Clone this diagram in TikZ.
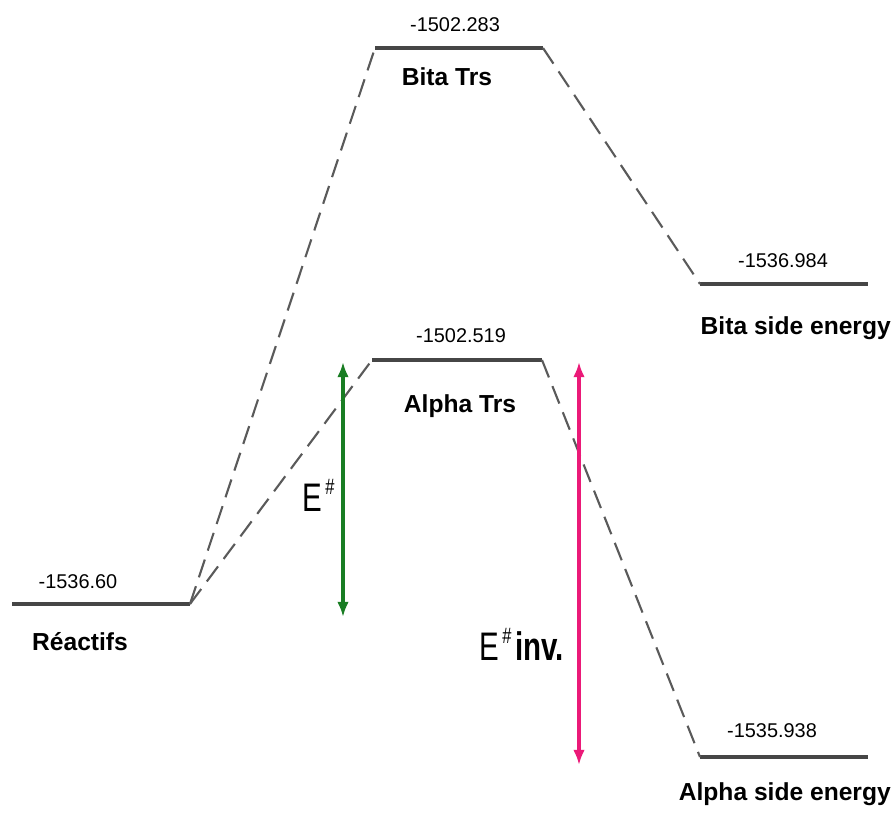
\documentclass[tikz,border=0pt]{standalone}
\usepackage{fontspec}
\setmainfont{Liberation Sans}
\usetikzlibrary{arrows.meta}

\definecolor{levelgray}{RGB}{70,70,70}
\definecolor{dashgray}{RGB}{90,90,90}
\definecolor{egreen}{RGB}{25,125,35}
\definecolor{epink}{RGB}{235,25,120}

\NewDocumentCommand{\elabel}{m}{%
\scalebox{0.74}[1]{\fontsize{34}{34}\selectfont E\hspace{0.12em}\raisebox{0.42em}{\fontsize{19}{19}\selectfont\#}#1}%
}

\tikzset{
  lvl/.style={levelgray, line width=2.6pt},
  route/.style={dashgray, line width=1.8pt, dash pattern=on 16pt off 8pt},
  energyval/.style={anchor=base, inner sep=0pt, font=\fontsize{17}{17}\selectfont},
  statelabel/.style={anchor=base, inner sep=0pt, font=\fontsize{21}{21}\selectfont\bfseries},
  barrier/.style={line width=2.6pt, {Latex[length=13pt,width=10pt]}-{Latex[length=13pt,width=10pt]}},
}

\begin{document}
\begin{tikzpicture}[x=0.03cm, y=-0.03cm]
        \useasboundingbox (0,0) rectangle (893,817);

        % Levels.
        \coordinate (reacL) at (12,604);
        \coordinate (reacR) at (190,604);
        \coordinate (bitaL) at (375,48);
        \coordinate (bitaR) at (543,48);
        \coordinate (alphaL) at (372,360);
        \coordinate (alphaR) at (542,360);
        \coordinate (bsideL) at (700,284);
        \coordinate (bsideR) at (868,284);
        \coordinate (asideL) at (700,757);
        \coordinate (asideR) at (868,757);

        \draw[lvl] (reacL) -- (reacR);
        \draw[lvl] (bitaL) -- (bitaR);
        \draw[lvl] (alphaL) -- (alphaR);
        \draw[lvl] (bsideL) -- (bsideR);
        \draw[lvl] (asideL) -- (asideR);

        % Paths.
        \draw[route] (reacR) -- (bitaL);
        \draw[route] (reacR) -- (alphaL);
        \draw[route] (bitaR) -- (bsideL);
        \draw[route] (alphaR) -- (asideL);

        % Values.
        \node[energyval] (reacval) at (78,588) {-1536.60};
        \node[energyval] (bitaval) at (455,32) {-1502.283};
        \node[energyval] (alphaval) at (461,342) {-1502.519};
        \node[energyval] (bsideval) at (783,267) {-1536.984};
        \node[energyval] (asideval) at (772,737) {-1535.938};

        % Names.
        \node[statelabel] (reaclab) at (80,650) {Réactifs};
        \node[statelabel] (bitalab) at (447,86) {Bita Trs};
        \node[statelabel] (alphalab) at (460,412) {Alpha Trs};
        \node[statelabel, anchor=base east] (bsidelab) at (891,334) {Bita side energy};
        \node[statelabel, anchor=base east] (asidelab) at (891,800) {Alpha side energy};

        % E #.
        \coordinate (gTop) at (343,362);
        \coordinate (gBot) at (343,617);
        \draw[barrier, egreen] (gTop) -- (gBot);
        \node[anchor=base west, inner sep=0pt] (ea) at (302,511) {\elabel{}};

        % E # inv.
        \coordinate (pTop) at (579,362);
        \coordinate (pBot) at (579,765);
        \draw[barrier, epink] (pTop) -- (pBot);
        \node[anchor=base west, inner sep=0pt] (einv) at (479,660) {\elabel{\hspace{0.12em}\textbf{inv.}}};
    \end{tikzpicture}
\end{document}
